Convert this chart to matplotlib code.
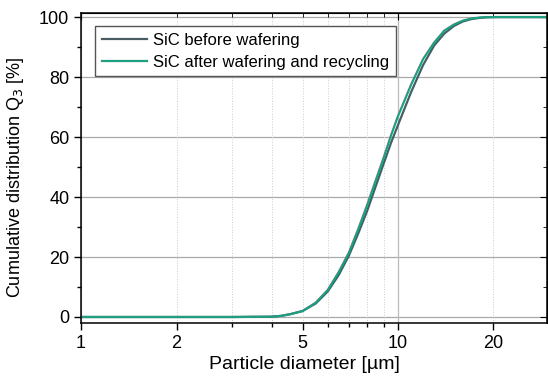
import matplotlib.pyplot as plt
from matplotlib.ticker import FixedLocator, NullFormatter

plt.rcParams['font.family'] = ['Liberation Sans', 'DejaVu Sans']

# particle sizes [µm] and cumulative Q3 [%]
diam = [1, 2, 3, 4, 4.3, 4.6, 5, 5.5, 6, 6.5, 7, 7.5, 8, 8.5, 9, 9.5, 10,
        11, 12, 13, 14, 15, 16, 17, 18, 19, 20, 22, 25, 30]
q3_before = [0, 0, 0, 0.1, 0.4, 1.0, 2.0, 4.5, 8.5, 14, 20.5, 28, 35.5, 43.5, 51, 58, 64,
             75, 84, 90.5, 94.5, 97, 98.5, 99.3, 99.7, 99.9, 100, 100, 100, 100]
q3_after = [0, 0, 0, 0.1, 0.4, 1.0, 2.0, 4.8, 9, 15, 21.5, 29.5, 37.5, 45.5, 53, 60.5, 67,
            77.5, 86, 91.5, 95.5, 97.5, 98.8, 99.5, 99.8, 100, 100, 100, 100, 100]

xticks = [1, 2, 5, 10, 20]
yticks = [0, 20, 40, 60, 80, 100]

fig = plt.figure(figsize=(5.48, 3.76), dpi=100)
ax = fig.add_axes([0.148, 0.141, 0.85, 0.824])

ax.plot(diam, q3_before, color='#4a5c64', lw=1.6, label='SiC before wafering')
ax.plot(diam, q3_after, color='#1f9e80', lw=1.6, label='SiC after wafering and recycling')

ax.set_xscale('log')
ax.set_xlim(1, 29.5)
ax.set_ylim(-2, 101.3)

ax.xaxis.set_major_locator(FixedLocator(xticks))
ax.set_xticklabels([str(t) for t in xticks])
ax.xaxis.set_minor_locator(FixedLocator([3, 4, 6, 7, 8, 9]))
ax.xaxis.set_minor_formatter(NullFormatter())
ax.set_yticks(yticks)
ax.yaxis.set_minor_locator(FixedLocator([10, 30, 50, 70, 90]))

# grid: solid major at decades / y majors, dotted for the rest
ax.grid(False)
for y in yticks:
    ax.axhline(y, color='#aaaaaa', lw=0.9, zorder=0)
for x in [1, 10]:
    ax.axvline(x, color='#bbbbbb', lw=0.9, zorder=0)
for x in [2, 3, 4, 5, 6, 7, 8, 9, 20]:
    ax.axvline(x, color='#cccccc', lw=0.7, ls=':', zorder=0)

ax.tick_params(which='both', direction='out', length=5, width=1, labelsize=13, top=False, right=False)
ax.tick_params(which='minor', length=3)
sec = ax.secondary_xaxis('top')
sec.xaxis.set_major_locator(FixedLocator([1, 10]))
sec.xaxis.set_minor_locator(FixedLocator([2, 3, 4, 5, 6, 7, 8, 9, 20]))
sec.tick_params(which='both', direction='in', labeltop=False, length=5)
sec.tick_params(which='minor', length=3)
sec.xaxis.set_minor_formatter(NullFormatter())
secy = ax.secondary_yaxis('right')
secy.set_yticks(yticks)
secy.yaxis.set_minor_locator(FixedLocator([10, 30, 50, 70, 90]))
secy.tick_params(which='both', direction='in', labelright=False, length=5)
secy.tick_params(which='minor', length=3)

for s in ax.spines.values():
    s.set_linewidth(1.1)

ax.set_xlabel('Particle diameter [µm]', fontsize=14)
ax.xaxis.set_label_coords(0.48, -0.105)
ax.set_ylabel('Cumulative distribution Q$_3$ [%]', fontsize=13)
ax.yaxis.set_label_coords(-0.118, 0.47)

leg = ax.legend(loc='upper left', bbox_to_anchor=(0.03, 0.958), borderaxespad=0,
                fontsize=12, fancybox=False, framealpha=1, edgecolor='#555555',
                handlelength=2.7, handletextpad=0.4, borderpad=0.4, labelspacing=0.4)
leg.get_frame().set_linewidth(1.0)

fig.savefig('out.png', dpi=100)
